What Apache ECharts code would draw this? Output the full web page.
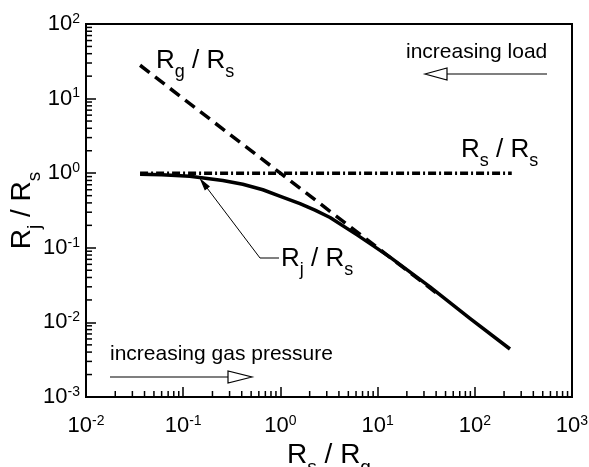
<!DOCTYPE html>
<html>
<head>
<meta charset="utf-8">
<script src="https://cdn.jsdelivr.net/npm/echarts@6/dist/echarts.min.js"></script>
<style>
html, body { margin: 0; padding: 0; background: #fff; }
#chart { width: 589px; height: 467px; }
</style>
</head>
<body>
<div id="chart"></div>
<script>
// Rj / Rs (solid)
var jointX = [0.036, 0.06, 0.117, 0.256, 0.41, 0.66, 1.0, 1.59, 2.27, 3.24, 6.14, 8.97, 13.4, 34.6, 89, 230];
var jointY = [0.97, 0.955, 0.91, 0.80, 0.71, 0.60, 0.49, 0.39, 0.32, 0.255, 0.149, 0.107, 0.075, 0.030, 0.0113, 0.0044];
// Rg / Rs (dashed)
var gasX = [0.036, 0.1, 1, 10, 40];
var gasY = [28, 10, 1, 0.1, 0.025];
// Rs / Rs (dash-dot)
var selfX = [0.036, 240];
var selfY = [1, 1];
// axes
var xDecades = [0.01, 0.1, 1, 10, 100, 1000];
var yDecades = [0.001, 0.01, 0.1, 1, 10, 100];
var minorSteps = [2, 3, 4, 5, 6, 7, 8, 9];

var FONT = '"Liberation Sans", Arial, sans-serif';

var zip = function (xs, ys) {
    var out = [];
    for (var i = 0; i < xs.length; i++) out.push([xs[i], ys[i]]);
    return out;
};

var minorValues = function (decades) {
    var out = [];
    for (var i = 0; i < decades.length - 1; i++) {
        for (var j = 0; j < minorSteps.length; j++) out.push(minorSteps[j] * decades[i]);
    }
    return out;
};

var powLabel = function (v) {
    return '{b|10}{e|' + Math.round(Math.log10(v)) + '}';
};
var powRich = {
    b: { fontSize: 22, fontFamily: FONT, color: '#000' },
    e: { fontSize: 14, fontFamily: FONT, color: '#000', padding: [0, 0, 10, 0] }
};
var nameRich = {
    m: { fontSize: 28, fontFamily: FONT, color: '#000' },
    s: { fontSize: 19, fontFamily: FONT, color: '#000', padding: [25, 0, 0, 0] }
};
var noteRich = {
    m: { fontSize: 26, fontFamily: FONT, color: '#000' },
    s: { fontSize: 18, fontFamily: FONT, color: '#000', padding: [23, 0, 0, 0] }
};

var xMin = xDecades[0], yMin = yDecades[0];

// minor ticks drawn through the axis scales
var minorTicks = function (data, dx, dy) {
    return {
        type: 'custom',
        silent: true,
        clip: false,
        z: 5,
        data: data,
        renderItem: function (params, api) {
            var p = api.coord([api.value(0), api.value(1)]);
            return {
                type: 'line',
                shape: { x1: p[0], y1: p[1], x2: p[0] + dx, y2: p[1] + dy },
                style: { stroke: '#000', lineWidth: 1.5 }
            };
        }
    };
};

var chart = echarts.init(document.getElementById('chart'));

var axisCommon = {
    type: 'log',
    logBase: 10,
    axisLine: { lineStyle: { color: '#000', width: 2 } },
    axisTick: { inside: true, length: 10, lineStyle: { color: '#000', width: 1.5 } },
    splitLine: { show: false },
    nameLocation: 'middle',
    nameMoveOverlap: false
};

chart.setOption({
    animation: false,
    backgroundColor: '#fff',
    grid: {
        left: 86, top: 24, right: 17, bottom: 70,
        show: true, borderColor: '#000', borderWidth: 2,
        outerBoundsMode: 'none'
    },
    xAxis: Object.assign({}, axisCommon, {
        min: xDecades[0],
        max: xDecades[xDecades.length - 1],
        axisLabel: { margin: 17, formatter: powLabel, rich: powRich },
        name: '{m|R}{s|s}{m| / R}{s|g}',
        nameGap: 36,
        nameTextStyle: { rich: nameRich }
    }),
    yAxis: Object.assign({}, axisCommon, {
        min: yDecades[0],
        max: yDecades[yDecades.length - 1],
        axisLabel: { margin: 6, formatter: powLabel, rich: powRich },
        name: '{m|R}{s|j}{m| / R}{s|s}',
        nameGap: 42,
        nameTextStyle: { rich: nameRich }
    }),
    series: [
        {
            type: 'line', data: zip(gasX, gasY), showSymbol: false, symbol: 'none', z: 3,
            lineStyle: { color: '#000', width: 3.5, type: [12, 7], cap: 'butt' }
        },
        {
            type: 'line', data: zip(selfX, selfY), showSymbol: false, symbol: 'none', z: 3,
            lineStyle: { color: '#000', width: 3.5, type: [8, 3, 2, 3], cap: 'butt' }
        },
        {
            type: 'line', data: zip(jointX, jointY), showSymbol: false, symbol: 'none', z: 4,
            lineStyle: { color: '#000', width: 3.5, join: 'round' }
        },
        minorTicks(minorValues(xDecades).map(function (v) { return [v, yMin]; }), 0, -6),
        minorTicks(minorValues(yDecades).map(function (v) { return [xMin, v]; }), 6, 0)
    ]
});

// annotations
var arrowHead = function (tail, tip, len, half, fill) {
    var dx = tip[0] - tail[0], dy = tip[1] - tail[1];
    var d = Math.sqrt(dx * dx + dy * dy);
    var ux = dx / d, uy = dy / d;
    var bx = tip[0] - ux * len, by = tip[1] - uy * len;
    return {
        type: 'polygon',
        shape: { points: [tip, [bx - uy * half, by + ux * half], [bx + uy * half, by - ux * half]] },
        style: { fill: fill, stroke: '#000', lineWidth: 1.2 }
    };
};

var label = function (x, y, text, size, rich) {
    return {
        type: 'text', x: x, y: y,
        style: {
            text: text, font: size + 'px ' + FONT, fill: '#000',
            textAlign: 'left', textVerticalAlign: 'middle', rich: rich
        }
    };
};

var loadTail = [547, 74], loadTip = [425, 74];
var gasTail = [110, 377], gasTip = [252, 377];
var leadTip = [201, 180], leadKnee = [260, 258];

chart.setOption({
    graphic: [
        label(406, 52, 'increasing load', 21),
        { type: 'polyline', shape: { points: [loadTail, [447, 74]] }, style: { stroke: '#000', lineWidth: 1.2 } },
        arrowHead(loadTail, loadTip, 22, 6, '#fff'),
        label(110, 354, 'increasing gas pressure', 21),
        { type: 'polyline', shape: { points: [gasTail, [228, 377]] }, style: { stroke: '#000', lineWidth: 1.2 } },
        arrowHead(gasTail, gasTip, 24, 6, '#fff'),
        label(156, 61, '{m|R}{s|g}{m| / R}{s|s}', 26, noteRich),
        label(461, 150, '{m|R}{s|s}{m| / R}{s|s}', 26, noteRich),
        label(281, 259, '{m|R}{s|j}{m| / R}{s|s}', 26, noteRich),
        { type: 'polyline', shape: { points: [[279, 258], leadKnee, leadTip] }, style: { stroke: '#000', lineWidth: 1 } },
        arrowHead(leadKnee, leadTip, 10, 2.5, '#000')
    ]
});
</script>
</body>
</html>
